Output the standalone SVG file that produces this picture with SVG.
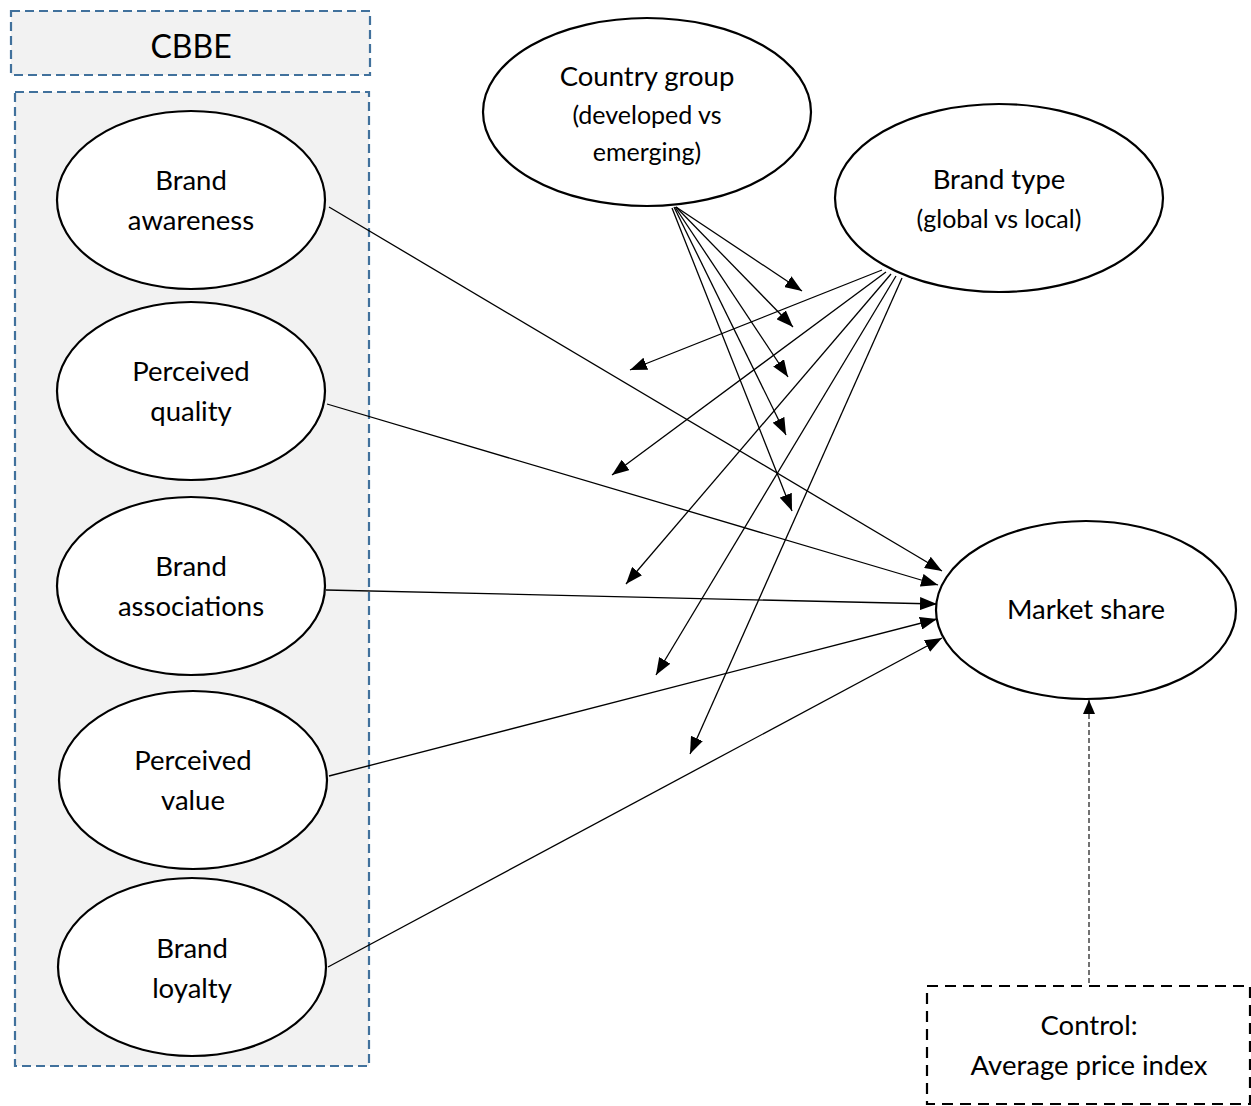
<svg xmlns="http://www.w3.org/2000/svg" width="1251" height="1106" viewBox="0 0 1251 1106">
<defs>
<marker id="ah" markerUnits="userSpaceOnUse" markerWidth="17" markerHeight="13" refX="17" refY="6.5" orient="auto"><path d="M0,0 L17,6.5 L0,13 z" fill="#000"/></marker>
<marker id="ahs" markerUnits="userSpaceOnUse" markerWidth="14" markerHeight="12" refX="14" refY="6" orient="auto"><path d="M0,0 L14,6 L0,12 z" fill="#000"/></marker>
<style>
.grp{fill:#f2f2f2;stroke:#41719c;stroke-width:2.2;stroke-dasharray:9 5}
.el{fill:#fff;stroke:#000;stroke-width:2.2}
.t{font-family:Lato,"Open Sans","Liberation Sans",sans-serif;font-size:27.5px;fill:#000;text-anchor:middle}
.s{font-size:25px}
.c{stroke:#000;stroke-width:1.3;fill:none;marker-end:url(#ah)}
.ctl{fill:#fff;stroke:#000;stroke-width:2.2;stroke-dasharray:11 7}
</style>
</defs>
<rect x="0" y="0" width="1251" height="1106" fill="#fff"/>
<g id="cbbe-title">
<rect class="grp" x="11" y="11" width="359" height="64"/>
<text class="t" x="191" y="58" style="font-size:32px">CBBE</text>
</g>
<g id="cbbe-group">
<rect class="grp" x="15" y="92" width="354" height="974"/>
</g>
<g id="connectors">
<line class="c" x1="329" y1="207" x2="942" y2="571"/>
<line class="c" x1="327" y1="404" x2="938" y2="585"/>
<line class="c" x1="326" y1="590" x2="937" y2="604"/>
<line class="c" x1="329" y1="776" x2="937" y2="619"/>
<line class="c" x1="328" y1="967" x2="942" y2="638"/>
<line class="c" x1="676" y1="207" x2="802" y2="291"/>
<line class="c" x1="676" y1="207" x2="793" y2="327"/>
<line class="c" x1="675" y1="207" x2="788" y2="377"/>
<line class="c" x1="674" y1="207" x2="786" y2="435"/>
<line class="c" x1="672" y1="208" x2="792" y2="511"/>
<line class="c" x1="882" y1="270" x2="630" y2="370"/>
<line class="c" x1="886" y1="272" x2="612" y2="475"/>
<line class="c" x1="891" y1="274" x2="626" y2="584"/>
<line class="c" x1="896" y1="276" x2="656" y2="675"/>
<line class="c" x1="902" y1="278" x2="690" y2="754"/>
<line x1="1089" y1="983" x2="1089" y2="700" stroke="#444" stroke-width="1.5" stroke-dasharray="5 3" marker-end="url(#ahs)"/>
</g>
<g id="brand-awareness">
<ellipse class="el" cx="191" cy="200" rx="134" ry="89"/>
<text class="t" x="191" y="190">Brand</text>
<text class="t" x="191" y="230">awareness</text>
</g>
<g id="perceived-quality">
<ellipse class="el" cx="191" cy="391" rx="134" ry="89"/>
<text class="t" x="191" y="381">Perceived</text>
<text class="t" x="191" y="421">quality</text>
</g>
<g id="brand-associations">
<ellipse class="el" cx="191" cy="586" rx="134" ry="89"/>
<text class="t" x="191" y="576">Brand</text>
<text class="t" x="191" y="616">associations</text>
</g>
<g id="perceived-value">
<ellipse class="el" cx="193" cy="780" rx="134" ry="89"/>
<text class="t" x="193" y="770">Perceived</text>
<text class="t" x="193" y="810">value</text>
</g>
<g id="brand-loyalty">
<ellipse class="el" cx="192" cy="967" rx="134" ry="89"/>
<text class="t" x="192" y="958">Brand</text>
<text class="t" x="192" y="998">loyalty</text>
</g>
<g id="country-group">
<ellipse class="el" cx="647" cy="112" rx="164" ry="94"/>
<text class="t" x="647" y="86">Country group</text>
<text class="t s" x="647" y="124">(developed vs</text>
<text class="t s" x="647" y="161">emerging)</text>
</g>
<g id="brand-type">
<ellipse class="el" cx="999" cy="198" rx="164" ry="94"/>
<text class="t" x="999" y="189">Brand type</text>
<text class="t s" x="999" y="228">(global vs local)</text>
</g>
<g id="market-share">
<ellipse class="el" cx="1086" cy="610" rx="150" ry="89"/>
<text class="t" x="1086" y="619">Market share</text>
</g>
<g id="control">
<rect class="ctl" x="927" y="986" width="323" height="118"/>
<text class="t" x="1089" y="1035">Control:</text>
<text class="t" x="1089" y="1075">Average price index</text>
</g>
</svg>
